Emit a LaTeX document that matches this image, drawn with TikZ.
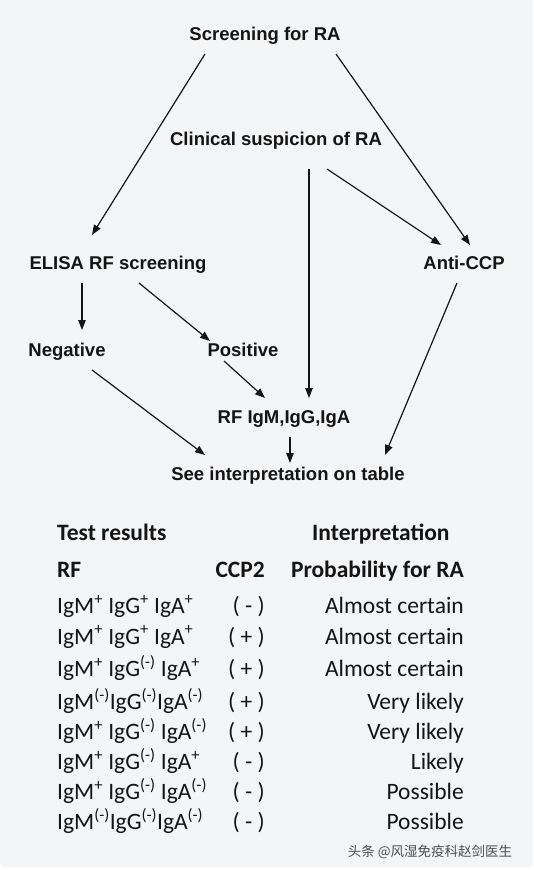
\documentclass[tikz,border=0pt]{standalone}
\usepackage{fontspec}
\setmainfont{Liberation Sans}
\newfontfamily\tablefont{Carlito}
\newfontfamily\cjkfont{Noto Sans CJK SC}
\usepackage{xcolor}
\usepackage{tikz}
\usetikzlibrary{arrows.meta}
\definecolor{bgpanel}{HTML}{F4F5F7}
\definecolor{inkdark}{HTML}{141414}
\newcommand{\igp}{\textsuperscript{+}}
\newcommand{\ign}{\textsuperscript{(-)}}

\begin{document}
\begin{tikzpicture}[x=1pt,y=-1pt,
  flow/.style={font=\bfseries\fontsize{18.5}{22}\selectfont, text=inkdark,
    inner sep=0pt, text height=13.5pt, text depth=4pt},
  arr/.style={-{Triangle[length=10pt,width=7.5pt]}, line width=1.2pt, inkdark},
  cell/.style={font=\tablefont\fontsize{23.5}{28}\selectfont, text=inkdark, inner sep=0pt},
  head/.style={cell, font=\tablefont\bfseries\fontsize{23.5}{28}\selectfont}]
  \useasboundingbox (0,0) rectangle (533,870);
  \fill[white] (0,0) rectangle (533,870);
  \fill[bgpanel, rounded corners=5pt] (0,0) rectangle (533,867);
  \fill[bgpanel] (0,0) rectangle (533,100);

  % flow chart
  \node[flow] (scr) at (265,36) {Screening for RA};
  \node[flow] (clin) at (276,141) {Clinical suspicion of RA};
  \node[flow] (elisa) at (118,265) {ELISA RF screening};
  \node[flow] (anti) at (464,265) {Anti-CCP};
  \node[flow] (neg) at (67,352) {Negative};
  \node[flow] (pos) at (243,352) {Positive};
  \node[flow] (rfig) at (284,419) {RF IgM,IgG,IgA};
  \node[flow] (see) at (288,476) {See interpretation on table};

  \draw[arr] ([shift={(-60,18)}]scr.center) -- ([shift={(-26,-30)}]elisa.center);
  \draw[arr] ([shift={(71,18)}]scr.center) -- ([shift={(6,-20)}]anti.center);
  \draw[arr] ([shift={(51,28)}]clin.center) -- ([shift={(-23,-20)}]anti.center);
  \draw[arr] ([shift={(33,28)}]clin.center) -- ([shift={(25,-21)}]rfig.center);
  \draw[arr] ([shift={(-36,18)}]elisa.center) -- ([shift={(15,-22)}]neg.center);
  \draw[arr] ([shift={(21,18)}]elisa.center) -- ([shift={(-33,-11)}]pos.center);
  \draw[arr] ([shift={(-19,9)}]pos.center) -- ([shift={(-19,-21)}]rfig.center);
  \draw[arr] ([shift={(25,18)}]neg.center) -- ([shift={(-83,-21)}]see.center);
  \draw[arr] ([shift={(6,18)}]rfig.center) -- ([shift={(2,-13)}]see.center);
  \draw[arr] ([shift={(-7,18)}]anti.center) -- ([shift={(97,-21)}]see.center);

  % table
  \node[head, anchor=base west] (hres) at (57,540.7) {Test results};
  \node[head, anchor=base west] (hint) at (312,540.7) {Interpretation};
  \node[head, anchor=base west] (hrf) at (57,577.3) {RF};
  \node[head, anchor=base east] (hccp) at (265,577.3) {CCP2};
  \node[head, anchor=base east] (hprob) at (464,577.3) {Probability for RA};

  \node[cell, anchor=base west] (rf1) at (57,613.3) {IgM\igp\ IgG\igp\ IgA\igp};
  \node[cell, anchor=base east] (ccp1) at (265,613.3) {( - )};
  \node[cell, anchor=base east] (prob1) at (464,613.3) {Almost certain};
  \node[cell, anchor=base west] (rf2) at (57,644) {IgM\igp\ IgG\igp\ IgA\igp};
  \node[cell, anchor=base east] (ccp2) at (265,644) {( + )};
  \node[cell, anchor=base east] (prob2) at (464,644) {Almost certain};
  \node[cell, anchor=base west] (rf3) at (57,676.7) {IgM\igp\ IgG\ign\ IgA\igp};
  \node[cell, anchor=base east] (ccp3) at (265,676.7) {( + )};
  \node[cell, anchor=base east] (prob3) at (464,676.7) {Almost certain};
  \node[cell, anchor=base west] (rf4) at (57,709.3) {IgM\ign IgG\ign IgA\ign};
  \node[cell, anchor=base east] (ccp4) at (265,709.3) {( + )};
  \node[cell, anchor=base east] (prob4) at (464,709.3) {Very likely};
  \node[cell, anchor=base west] (rf5) at (57,739.3) {IgM\igp\ IgG\ign\ IgA\ign};
  \node[cell, anchor=base east] (ccp5) at (265,739.3) {( + )};
  \node[cell, anchor=base east] (prob5) at (464,739.3) {Very likely};
  \node[cell, anchor=base west] (rf6) at (57,769.3) {IgM\igp\ IgG\ign\ IgA\igp};
  \node[cell, anchor=base east] (ccp6) at (265,769.3) {( - )};
  \node[cell, anchor=base east] (prob6) at (464,769.3) {Likely};
  \node[cell, anchor=base west] (rf7) at (57,799.3) {IgM\igp\ IgG\ign\ IgA\ign};
  \node[cell, anchor=base east] (ccp7) at (265,799.3) {( - )};
  \node[cell, anchor=base east] (prob7) at (464,799.3) {Possible};
  \node[cell, anchor=base west] (rf8) at (57,829.3) {IgM\ign IgG\ign IgA\ign};
  \node[cell, anchor=base east] (ccp8) at (265,829.3) {( - )};
  \node[cell, anchor=base east] (prob8) at (464,829.3) {Possible};

  \node[font=\cjkfont\fontsize{13.5}{16}\selectfont, text=black!70, inner sep=0pt] (mark) at (430,852) {头条 @风湿免疫科赵剑医生};
\end{tikzpicture}
\end{document}
